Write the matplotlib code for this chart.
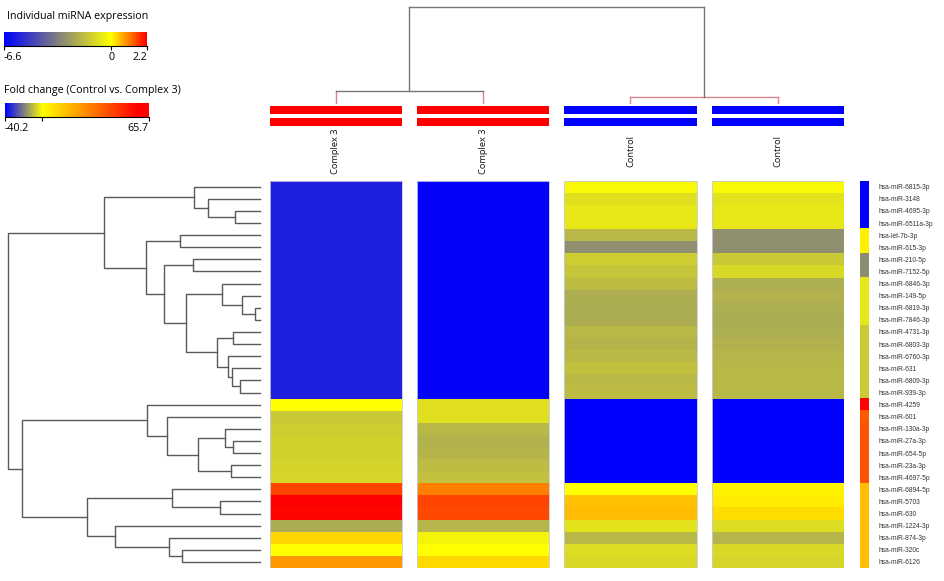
import numpy as np
import matplotlib
matplotlib.use('Agg')
import matplotlib.pyplot as plt
from matplotlib.colors import LinearSegmentedColormap, Normalize, TwoSlopeNorm

W, H = 945, 581

mirnas = ['hsa-miR-6815-3p', 'hsa-miR-3148', 'hsa-miR-4695-3p', 'hsa-miR-6511a-3p',
          'hsa-let-7b-3p', 'hsa-miR-615-3p', 'hsa-miR-210-5p', 'hsa-miR-7152-5p',
          'hsa-miR-6846-3p', 'hsa-miR-149-5p', 'hsa-miR-6819-3p', 'hsa-miR-7846-3p',
          'hsa-miR-4731-3p', 'hsa-miR-6803-3p', 'hsa-miR-6760-3p', 'hsa-miR-631',
          'hsa-miR-6809-3p', 'hsa-miR-939-3p', 'hsa-miR-4259', 'hsa-miR-601',
          'hsa-miR-130a-3p', 'hsa-miR-27a-3p', 'hsa-miR-654-5p', 'hsa-miR-23a-3p',
          'hsa-miR-4697-5p', 'hsa-miR-6894-5p', 'hsa-miR-5703', 'hsa-miR-630',
          'hsa-miR-1224-3p', 'hsa-miR-874-3p', 'hsa-miR-320c', 'hsa-miR-6126']

samples = ['Complex 3', 'Complex 3', 'Control', 'Control']
group_colors = {'Complex 3': '#ff0000', 'Control': '#0000ff'}

# individual expression, one list per sample column (rows in the order above)
complex3_a = [-5.8] * 18 + [0.0, -1.4, -1.3, -1.2, -1.2, -1.15, -1.1,
                            1.6, 2.2, 2.15, -2.15, 0.35, 0.0, 0.88]
complex3_b = [-6.5] * 18 + [-0.85, -0.85, -1.85, -2.0, -1.95, -1.75, -1.6,
                            1.1, 1.6, 1.58, -1.9, -0.3, 0.0, 0.32]
control_a = [-0.2, -0.8, -0.6, -0.6, -1.85, -2.9, -1.3, -1.5, -1.75, -2.1,
             -2.15, -2.15, -1.85, -1.95, -1.8, -1.6, -1.8, -1.75] + [-6.6] * 7 + \
            [0.0, 0.55, 0.58, -0.75, -1.85, -0.9, -1.0]
control_b = [-0.2, -0.75, -0.65, -0.65, -2.9, -2.9, -1.4, -1.0, -2.1, -2.0,
             -2.1, -2.15, -2.1, -2.0, -1.9, -1.85, -1.85, -1.85] + [-6.6] * 7 + \
            [0.09, 0.15, 0.28, -0.9, -1.9, -1.0, -1.1]

fold_change = [-40.2] * 4 + [3.5] * 2 + [-18.0] * 2 + [-4.0] * 4 + [-8.4] * 6 + \
              [65.7] + [38.0] + [39.6] * 5 + [14.8] * 7

# (child a, child b, height); new nodes numbered from 32 upward
row_merges = [(2, 3, 25), (1, 32, 52), (0, 33, 66), (10, 11, 5), (9, 35, 18),
              (8, 36, 38), (12, 13, 27), (16, 17, 20), (15, 39, 28), (14, 40, 32),
              (38, 41, 43), (37, 42, 74), (6, 7, 67), (44, 43, 96), (4, 5, 80),
              (46, 45, 114), (34, 47, 156), (21, 22, 27), (20, 49, 35), (23, 24, 29),
              (50, 51, 62), (19, 52, 93), (18, 53, 113), (26, 27, 40), (25, 55, 88),
              (30, 31, 78), (29, 57, 91), (28, 58, 145), (56, 59, 173), (54, 60, 238),
              (48, 61, 252)]
col_merges = [(0, 1, 13), (2, 3, 7), (4, 5, 97)]
col_leg_colors = ['#d98490', '#d98490', '#777777']
col_bar_colors = ['#777777', '#d98490', '#777777']

expr_cmap = LinearSegmentedColormap.from_list(
    'expr', [(0, '#0000ff'), (0.75, '#ffff00'), (1, '#ff0000')])
expr_norm = Normalize(-6.6, 2.2)
fold_cmap = LinearSegmentedColormap.from_list(
    'fold', [(0, '#0000ff'), (0.5, '#ffff00'), (0.95, '#ff0000'), (1, '#ff0000')])
fold_norm = TwoSlopeNorm(vcenter=0, vmin=-40.2, vmax=65.7)


def box(x0, y0, x1, y1):
    return [x0 / W, 1 - y1 / H, (x1 - x0) / W, (y1 - y0) / H]


def dendro(merges, leaf_pos):
    pos = {i: (p, 0.0) for i, p in enumerate(leaf_pos)}
    out = []
    nid = len(leaf_pos)
    for a, b, h in merges:
        pa, ha = pos[a]
        pb, hb = pos[b]
        out.append(((pa, ha), (pb, hb), h))
        pos[nid] = ((pa + pb) / 2, h)
        nid += 1
    return out


fig = plt.figure(figsize=(W / 100, H / 100), dpi=100)
n = len(mirnas)
cw = 0.898
hx0, hx1, hy0, hy1 = 269.6, 844, 180.7, 568

# heatmap
ax = fig.add_axes(box(hx0, hy0, hx1, hy1))
values = np.array([complex3_a, complex3_b, control_a, control_b]).T
for j in range(len(samples)):
    ax.pcolormesh([j, j + cw], np.arange(n + 1), values[:, j:j + 1],
                  cmap=expr_cmap, norm=expr_norm)
    ax.add_patch(plt.Rectangle((j, 0), cw, n, fill=False, ec='#c9c9dd', lw=0.6))
ax.set_xlim(0, 3 + cw)
ax.set_ylim(n, 0)
ax.axis('off')

# row dendrogram
axd = fig.add_axes(box(0, hy0, 260, hy1))
for (pa, ha), (pb, hb), h in dendro(row_merges, np.arange(n) + 0.5):
    axd.plot([ha, h, h, hb], [pa, pa, pb, pb], color='#5a5a5a', lw=1, clip_on=False)
axd.set_xlim(260, 0)
axd.set_ylim(n, 0)
axd.axis('off')

# column dendrogram
axt = fig.add_axes(box(hx0, 0, hx1, 104))
centers = np.arange(len(samples)) + cw / 2
for k, ((pa, ha), (pb, hb), h) in enumerate(dendro(col_merges, centers)):
    axt.plot([pa, pa], [ha, h], color=col_leg_colors[k], lw=1)
    axt.plot([pb, pb], [hb, h], color=col_leg_colors[k], lw=1)
    axt.plot([pa, pb], [h, h], color=col_bar_colors[k], lw=1)
axt.set_xlim(0, 3 + cw)
axt.set_ylim(0, 104)
axt.axis('off')

# group colour bars and sample names
axb = fig.add_axes(box(hx0, 104, hx1, 180))
for j, s in enumerate(samples):
    axb.bar(centers[j], 8, width=cw, bottom=106, color=group_colors[s])
    axb.bar(centers[j], 8, width=cw, bottom=118, color=group_colors[s])
    axb.text(centers[j], 151, s, rotation=90, ha='center', va='center',
             fontsize=6.7, family='Open Sans', color='#111111')
axb.set_xlim(0, 3 + cw)
axb.set_ylim(180, 104)
axb.axis('off')

# fold change side bar
axs = fig.add_axes(box(860, hy0, 869, hy1))
axs.imshow(np.array(fold_change)[:, None], cmap=fold_cmap, norm=fold_norm,
           aspect='auto', extent=(0, 1, n, 0))
axs.set_xticks([])
axs.yaxis.tick_right()
axs.set_yticks(np.arange(n) + 0.5)
axs.set_yticklabels(mirnas, fontsize=4.8, family='Liberation Sans', color='#333333')
axs.tick_params(axis='y', length=0, pad=6.5)
for sp in axs.spines.values():
    sp.set_visible(False)

# colour keys
fig.text(7 / W, 1 - 17 / H, 'Individual miRNA expression', fontsize=7.7,
         family='Open Sans', va='center')
fig.text(4 / W, 1 - 90 / H, 'Fold change (Control vs. Complex 3)', fontsize=7.7,
         family='Open Sans', va='center')

axc1 = fig.add_axes(box(4, 32, 147, 46))
grad = np.linspace(-6.6, 2.2, 300)
axc1.imshow(grad[None, :], cmap=expr_cmap, norm=expr_norm, aspect='auto',
            extent=(-6.6, 2.2, 0, 1))
axc1.set_xticks([-6.6, 0, 2.2])
axc1.set_xticklabels(['-6.6', '0', '2.2'])

axc2 = fig.add_axes(box(5, 103, 149, 117))
p = np.linspace(0, 1, 300)
grad2 = np.interp(p, [0, 0.26, 1], [-40.2, 0, 65.7])
axc2.imshow(grad2[None, :], cmap=fold_cmap, norm=fold_norm, aspect='auto',
            extent=(0, 1, 0, 1))
axc2.set_xticks([0, 0.26, 1])
axc2.set_xticklabels(['-40.2', '', '65.7'])

for c in (axc1, axc2):
    c.set_yticks([])
    for side in ('top', 'left', 'right'):
        c.spines[side].set_visible(False)
    c.spines['bottom'].set_linewidth(0.8)
    c.tick_params(axis='x', length=3, width=0.8, pad=1, labelsize=7.7)
    labs = c.get_xticklabels()
    labs[0].set_ha('left')
    labs[-1].set_ha('right')
    for lab in labs:
        lab.set_family('Open Sans')

fig.savefig('out.png', dpi=100)
